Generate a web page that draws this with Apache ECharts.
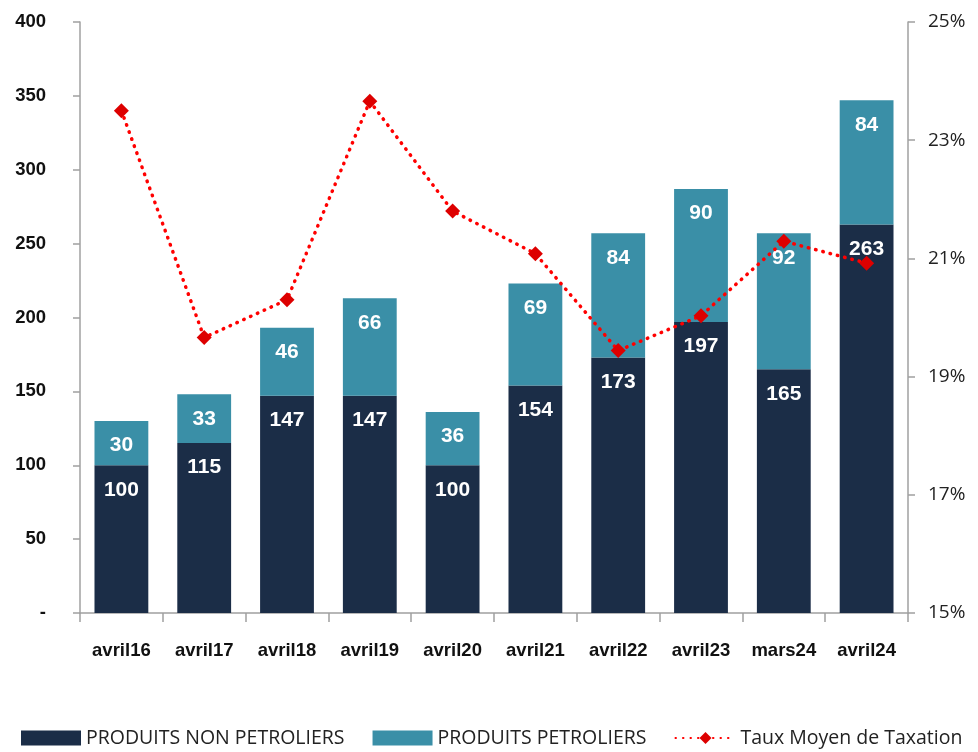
<!DOCTYPE html>
<html>
<head>
<meta charset="utf-8">
<script src="https://cdn.jsdelivr.net/npm/echarts@6/dist/echarts.min.js"></script>
<style>
  html, body { margin: 0; padding: 0; background: #fff; }
  #main { width: 978px; height: 752px; }
</style>
</head>
<body>
<div id="main"></div>
<script>
// données
var categories = ['avril16', 'avril17', 'avril18', 'avril19', 'avril20', 'avril21', 'avril22', 'avril23', 'mars24', 'avril24'];
var nonPetroliers = [100, 115, 147, 147, 100, 154, 173, 197, 165, 263];
var petroliers = [30, 33, 46, 66, 36, 69, 84, 90, 92, 84];
var tauxMoyen = [23.5, 19.66, 20.3, 23.66, 21.8, 21.08, 19.44, 20.03, 21.29, 20.92];

var chart = echarts.init(document.getElementById('main'), null, { renderer: 'canvas' });

var barLabel = {
  show: true,
  position: 'insideTop',
  distance: 14,
  color: '#fff',
  fontFamily: '"Liberation Sans Narrow", "Liberation Sans", Arial',
  fontWeight: 'bold',
  fontSize: 21
};

var option = {
  animation: false,
  grid: {
    left: 80,
    right: 70,
    top: 22,
    bottom: 139
  },
  legend: {
    bottom: -1,
    left: 16,
    itemGap: 28,
    itemWidth: 60,
    itemHeight: 15,
    textStyle: {
      fontFamily: '"Open Sans", "Noto Sans", sans-serif',
      fontSize: 19.5,
      color: '#222'
    },
    data: [
      { name: 'PRODUITS NON PETROLIERS', icon: 'rect' },
      { name: 'PRODUITS PETROLIERS', icon: 'rect' },
      { name: 'Taux Moyen de Taxation' }
    ]
  },
  xAxis: [{
    type: 'category',
    data: categories,
    axisLine: { lineStyle: { color: '#a0a0a0', width: 1.5 } },
    axisTick: { show: true, interval: 0, length: 9, lineStyle: { color: '#a0a0a0', width: 1.5 } },
    axisLabel: {
      interval: 0,
      margin: 28,
      color: '#111',
      fontFamily: '"Liberation Sans", Arial',
      fontWeight: 'bold',
      fontSize: 18.5
    }
  }],
  yAxis: [{
    type: 'value',
    min: 0,
    max: 400,
    interval: 50,
    splitLine: { show: false },
    axisLine: { show: true, lineStyle: { color: '#a0a0a0', width: 1.5 } },
    axisTick: { show: true, length: 7, lineStyle: { color: '#a0a0a0', width: 1.5 } },
    axisLabel: {
      margin: 34,
      color: '#111',
      fontFamily: '"Liberation Sans", Arial',
      fontWeight: 'bold',
      fontSize: 18.5,
      formatter: function (v) { return v === 0 ? '-' : v; }
    }
  }, {
    type: 'value',
    min: 15,
    max: 25,
    interval: 2,
    position: 'right',
    splitLine: { show: false },
    axisLine: { show: true, lineStyle: { color: '#a0a0a0', width: 1.5 } },
    axisTick: { show: true, length: 7, lineStyle: { color: '#a0a0a0', width: 1.5 } },
    axisLabel: {
      margin: 20,
      color: '#222',
      fontFamily: '"Open Sans", "Noto Sans", sans-serif',
      fontSize: 19,
      formatter: '{value}%'
    }
  }],
  series: [{
    name: 'PRODUITS NON PETROLIERS',
    type: 'bar',
    stack: 'total',
    barWidth: '65%',
    data: nonPetroliers,
    itemStyle: { color: '#1b2d47' },
    label: barLabel
  }, {
    name: 'PRODUITS PETROLIERS',
    type: 'bar',
    stack: 'total',
    data: petroliers,
    itemStyle: { color: '#3a8fa7' },
    label: barLabel
  }, {
    name: 'Taux Moyen de Taxation',
    type: 'line',
    yAxisIndex: 1,
    data: tauxMoyen,
    symbol: 'diamond',
    symbolSize: 15,
    itemStyle: { color: '#dd0000' },
    lineStyle: { color: '#ff0000', width: 3.5, type: [0.5, 7], cap: 'round' },
    z: 5
  }]
};

chart.setOption(option);
</script>
</body>
</html>
